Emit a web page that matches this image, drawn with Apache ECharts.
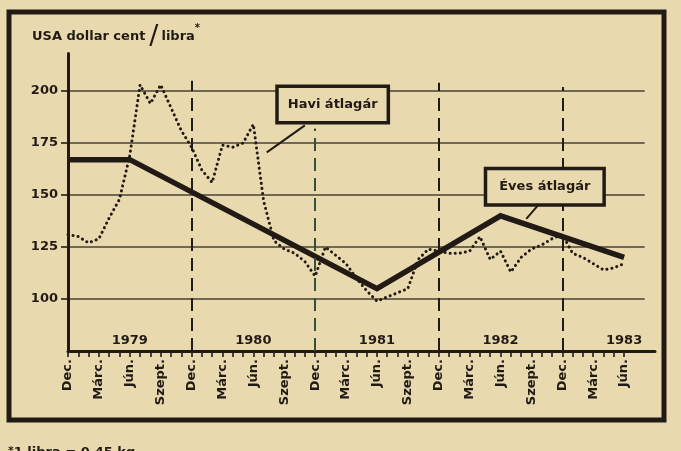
<!DOCTYPE html>
<html><head><meta charset="utf-8">
<script src="https://cdn.jsdelivr.net/npm/echarts@6/dist/echarts.min.js"></script>
<style>html,body{margin:0;padding:0;background:#e9d9ae;}#c{width:681px;height:451px;}</style>
</head><body><div id="c"></div>
<script>
// ---- data ----
const monthLabels = [
 'Dec.','Jan.','Febr.','Márc.','Ápr.','Máj.','Jún.','Júl.','Aug.','Szept.','Okt.','Nov.',
 'Dec.','Jan.','Febr.','Márc.','Ápr.','Máj.','Jún.','Júl.','Aug.','Szept.','Okt.','Nov.',
 'Dec.','Jan.','Febr.','Márc.','Ápr.','Máj.','Jún.','Júl.','Aug.','Szept.','Okt.','Nov.',
 'Dec.','Jan.','Febr.','Márc.','Ápr.','Máj.','Jún.','Júl.','Aug.','Szept.','Okt.','Nov.',
 'Dec.','Jan.','Febr.','Márc.','Ápr.','Máj.','Jún.'
];
const quarterTicks = [0,3,6,9,12,15,18,21,24,27,30,33,36,39,42,45,48,51,54];
const monthlyPrice = [
 131,130,127,129,139,148,169,203,194,203,192,181,
 173,162,156,174,173,175,184,147,128,124,122,118,
 111,125,121,117,110,104,99,101,103,105,119,124,
 123,122,122,123,130,119,123,113,120,124,126,129,
 131,122,120,117,114,115,117
];
const yearlyMonths = [0,6,18,30,42,54];
const yearlyValues = [167,167,136,105,140,120];
const yearLabels = ['1979','1980','1981','1982','1983'];
const yearLabelMonths = [6,18,30,42,54];
const yTicks = [100,125,150,175,200];
const decMonths = [12,24,36,48];
const decTops = [205,182,204,202];

// ---- style ----
const INK = '#221b15';
const PAPER = '#e9d9ae';
const FONT = 'DejaVu Sans';
const allMonths = monthLabels.map((_, i) => i);

const chart = echarts.init(document.getElementById('c'), null, {renderer: 'canvas'});
const option = {
  backgroundColor: PAPER,
  animation: false,
  grid: {left: 68, right: 26, top: 53.6, bottom: 100},
  xAxis: {
    type: 'value', min: 0, max: 57,
    axisLine: {show: true, lineStyle: {color: INK, width: 3}},
    axisTick: {show: true, customValues: allMonths, length: 6, lineStyle: {color: INK, width: 1.6}},
    axisLabel: {customValues: quarterTicks, rotate: 90, margin: 8, color: INK,
      fontFamily: FONT, fontWeight: 'bold', fontSize: 13,
      formatter: v => (quarterTicks.indexOf(v) >= 0 ? monthLabels[v] : '')},
    splitLine: {show: false}
  },
  yAxis: {
    type: 'value', min: 75, max: 218,
    axisLine: {show: true, lineStyle: {color: INK, width: 3}},
    axisTick: {show: true, customValues: yTicks, length: 7, lineStyle: {color: INK, width: 1.6}},
    axisLabel: {customValues: yTicks, margin: 10, color: INK, fontFamily: FONT, fontWeight: 'bold', fontSize: 13,
      formatter: v => (yTicks.indexOf(v) >= 0 ? String(v) : '')},
    splitLine: {show: false}
  },
  series: [
    { // horizontal grid lines
      type: 'line', data: [], silent: true, z: 1,
      markLine: {silent: true, symbol: ['none','none'], label: {show: false},
        lineStyle: {color: INK, width: 1.6, type: 'solid', opacity: 0.8},
        data: yTicks.map(v => [{coord: [0, v]}, {coord: [56, v]}])}
    },
    { // dashed year separators
      type: 'line', data: [], silent: true, z: 2,
      markLine: {silent: true, symbol: ['none','none'], label: {show: false},
        lineStyle: {color: INK, width: 2, type: [13, 7]},
        data: decMonths.map((m, i) => [{coord: [m, 75], lineStyle: i === 1 ? {color: '#35503a'} : {}}, {coord: [m, decTops[i]]}])}
    },
    { // yearly average
      name: 'Éves átlagár', type: 'line', z: 4, symbol: 'none',
      lineStyle: {color: INK, width: 5.5, join: 'miter'},
      data: yearlyMonths.map((m, i) => [m, yearlyValues[i]]),
      markPoint: {silent: true, symbol: 'rect', symbolSize: 0,
        data: yearLabelMonths.map((m, i) => ({coord: [m, 80], name: yearLabels[i],
          label: {show: true, formatter: '{b}', color: INK, fontFamily: FONT, fontWeight: 'bold', fontSize: 13}}))}
    },
    { // monthly price
      name: 'Havi átlagár', type: 'line', z: 3, symbol: 'none',
      lineStyle: {color: INK, width: 3, type: [0.1, 5], cap: 'round'},
      data: monthlyPrice.map((v, i) => [i, v])
    },
    { // callouts
      type: 'line', data: [], silent: true, z: 10,
      markLine: {silent: true, symbol: ['none','none'], label: {show: false},
        lineStyle: {color: INK, width: 2, type: 'solid'},
        data: [
          [{coord: [23.0, 183.5]}, {coord: [19.3, 170.5]}],
          [{coord: [45.8, 146]}, {coord: [44.5, 138.5]}]
        ]},
      markPoint: {silent: true, symbol: 'rect', symbolSize: 0,
        label: {show: true, formatter: '{b}', color: INK, fontFamily: FONT, fontWeight: 'bold', fontSize: 13,
          backgroundColor: PAPER, borderColor: INK, borderWidth: 3.5, padding: [10, 9, 10, 9]},
        data: [
          {coord: [25.7, 193.5], name: 'Havi átlagár'},
          {coord: [46.3, 154], name: 'Éves átlagár', label: {padding: [10, 12, 10, 12]}}
        ]}
    }
  ],
  graphic: [
    {type: 'rect', z: 0, shape: {x: 9, y: 12, width: 655, height: 408},
      style: {fill: 'none', stroke: INK, lineWidth: 5}},
    {type: 'text', x: 32, y: 37, z: 5,
      style: {text: '{a|USA dollar cent}{s|/}{a|libra}{t|*}', verticalAlign: 'middle', fill: INK,
        rich: {
          a: {fontFamily: FONT, fontWeight: 'bold', fontSize: 13, fill: INK, verticalAlign: 'middle'},
          s: {fontFamily: FONT, fontWeight: 'normal', fontSize: 27, fill: INK, padding: [0, 3, 0, 4], verticalAlign: 'middle'},
          t: {fontFamily: FONT, fontWeight: 'bold', fontSize: 10, fill: INK, verticalAlign: 'top'}
        }}},
    {type: 'text', x: 8, y: 446, z: 5,
      style: {text: '{t|*}{a|1 libra = 0,45 kg.}', fill: INK,
        rich: {
          a: {fontFamily: FONT, fontWeight: 'bold', fontSize: 13, fill: INK},
          t: {fontFamily: FONT, fontWeight: 'bold', fontSize: 11, fill: INK, verticalAlign: 'top'}
        }}}
  ]
};
chart.setOption(option);
</script>
</body></html>
